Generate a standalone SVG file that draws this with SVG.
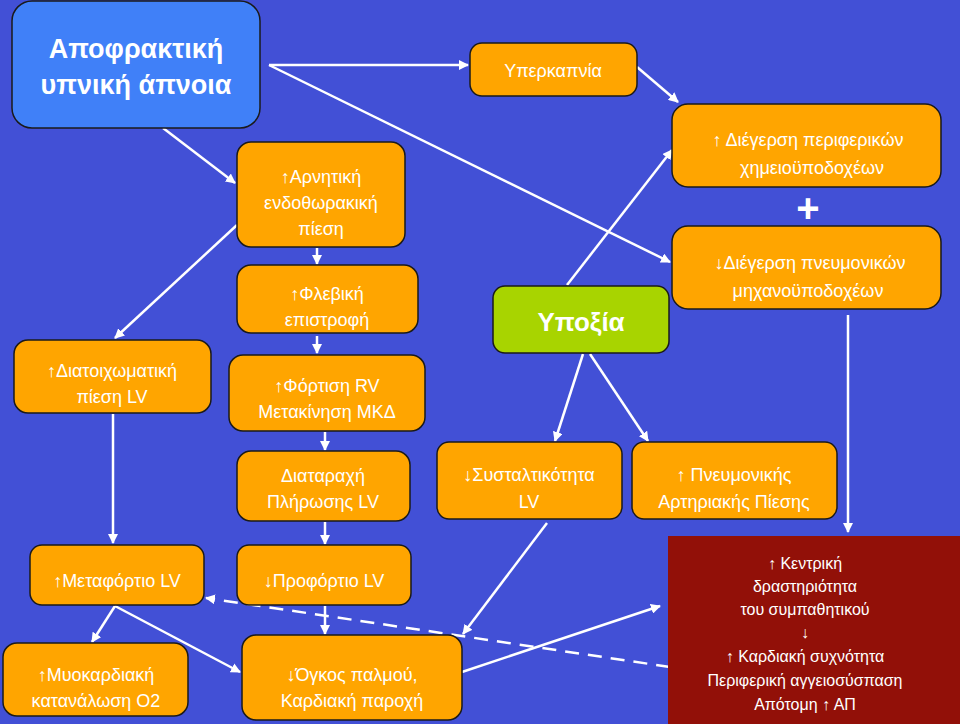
<svg xmlns="http://www.w3.org/2000/svg" width="960" height="724" viewBox="0 0 960 724">
<style>
.n{fill:#ffa500;stroke:#1a1a1a;stroke-width:1.5}
.t{fill:#fff;font-family:"Liberation Sans",Arial,sans-serif;font-size:18px;text-anchor:middle}
.c{stroke:#fff;stroke-width:2.5;fill:none;marker-end:url(#a)}
</style>
<defs><marker id="a" viewBox="0 0 10 10" refX="9" refY="5" markerWidth="4" markerHeight="4" orient="auto"><path d="M0,0L10,5L0,10z" fill="#fff"/></marker></defs>
<rect width="960" height="724" fill="#4250d6"/>
<g id="connectors">
<line class="c" x1="269" y1="65" x2="468" y2="65"/>
<line class="c" x1="269" y1="65" x2="670" y2="262"/>
<line class="c" x1="163" y1="128" x2="235" y2="183"/>
<line class="c" x1="237" y1="225" x2="115" y2="338"/>
<line class="c" x1="317" y1="248" x2="317" y2="264"/>
<line class="c" x1="317" y1="336" x2="317" y2="353"/>
<line class="c" x1="325" y1="432" x2="325" y2="450"/>
<line class="c" x1="325" y1="522" x2="325" y2="544"/>
<line class="c" x1="113" y1="414" x2="113" y2="543"/>
<line class="c" x1="325" y1="606" x2="325" y2="634"/>
<line class="c" x1="115" y1="606" x2="92" y2="642"/>
<line class="c" x1="115" y1="606" x2="240" y2="672"/>
<line class="c" x1="670" y1="667" x2="206" y2="598" stroke-dasharray="14,9"/>
<line class="c" x1="462" y1="672" x2="660" y2="606"/>
<line class="c" x1="547" y1="523" x2="463" y2="634"/>
<line class="c" x1="637" y1="67" x2="678" y2="102"/>
<line class="c" x1="567" y1="285" x2="672" y2="150"/>
<line class="c" x1="583" y1="354" x2="555" y2="441"/>
<line class="c" x1="590" y1="354" x2="648" y2="441"/>
<line class="c" x1="848" y1="315" x2="848" y2="532"/>
</g>
<g id="apo"><rect x="12" y="1" width="248" height="127" rx="20" fill="#4080f8" stroke="#1a1a1a" stroke-width="1.5"/>
<text class="t" style="font-size:27px;font-weight:bold"><tspan x="136" y="58">Αποφρακτική</tspan><tspan x="136" y="94">υπνική άπνοια</tspan></text></g>
<g id="arn"><rect class="n" x="237" y="142" width="168" height="105" rx="14"/>
<text class="t"><tspan x="321" y="183">↑Αρνητική</tspan><tspan x="321" y="209">ενδοθωρακική</tspan><tspan x="321" y="235">πίεση</tspan></text></g>
<g id="fleb"><rect class="n" x="237" y="265" width="181" height="68" rx="14"/>
<text class="t"><tspan x="327" y="300">↑Φλεβική</tspan><tspan x="327" y="326">επιστροφή</tspan></text></g>
<g id="diatoix"><rect class="n" x="14" y="340" width="197" height="73" rx="14"/>
<text class="t"><tspan x="112" y="377">↑Διατοιχωματική</tspan><tspan x="112" y="403">πίεση LV</tspan></text></g>
<g id="fort"><rect class="n" x="229" y="355" width="196" height="76" rx="14"/>
<text class="t"><tspan x="327" y="392">↑Φόρτιση RV</tspan><tspan x="327" y="418">Μετακίνηση ΜΚΔ</tspan></text></g>
<g id="diatar"><rect class="n" x="237" y="451" width="173" height="70" rx="14"/>
<text class="t"><tspan x="323" y="482">Διαταραχή</tspan><tspan x="323" y="508">Πλήρωσης LV</tspan></text></g>
<g id="yperk"><rect class="n" x="470" y="43" width="167" height="53" rx="12"/>
<text class="t" x="553" y="77">Υπερκαπνία</text></g>
<g id="dieg1"><rect class="n" x="672" y="104" width="269" height="83" rx="16"/>
<text class="t"><tspan x="808" y="146">↑ Διέγερση περιφερικών</tspan><tspan x="812" y="174">χημειοϋποδοχέων</tspan></text></g>
<text class="t" x="808" y="222" style="font-size:40px;font-weight:bold">+</text>
<g id="dieg2"><rect class="n" x="672" y="226" width="269" height="83" rx="16"/>
<text class="t"><tspan x="810" y="269">↓Διέγερση πνευμονικών</tspan><tspan x="808" y="297">μηχανοϋποδοχέων</tspan></text></g>
<g id="ypox"><rect x="493" y="286" width="176" height="67" rx="12" fill="#a8d400" stroke="#1a1a1a" stroke-width="1.5"/>
<text class="t" x="581" y="331" style="font-size:26px;font-weight:bold">Υποξία</text></g>
<g id="syst"><rect class="n" x="437" y="442" width="185" height="77" rx="12"/>
<text class="t"><tspan x="529" y="481">↓Συσταλτικότητα</tspan><tspan x="529" y="508">LV</tspan></text></g>
<g id="pneum"><rect class="n" x="632" y="442" width="205" height="77" rx="12"/>
<text class="t"><tspan x="734" y="481">↑ Πνευμονικής</tspan><tspan x="734" y="508">Αρτηριακής Πίεσης</tspan></text></g>
<g id="metaf"><rect class="n" x="30" y="545" width="174" height="60" rx="12"/>
<text class="t" x="117" y="587">↑Μεταφόρτιο LV</text></g>
<g id="profort"><rect class="n" x="237" y="545" width="174" height="60" rx="12"/>
<text class="t" x="324" y="587">↓Προφόρτιο LV</text></g>
<g id="myok"><rect class="n" x="3" y="643" width="185" height="73" rx="14"/>
<text class="t"><tspan x="96" y="681">↑Μυοκαρδιακή</tspan><tspan x="96" y="707">κατανάλωση Ο2</tspan></text></g>
<g id="ogkos"><rect class="n" x="242" y="635" width="220" height="85" rx="14"/>
<text class="t"><tspan x="352" y="681">↓Όγκος παλμού,</tspan><tspan x="352" y="707">Καρδιακή παροχή</tspan></text></g>
<g id="red"><rect x="668" y="536" width="292" height="188" fill="#921008"/>
<text class="t" style="font-size:16px"><tspan x="805" y="569">↑ Κεντρική</tspan><tspan x="805" y="592">δραστηριότητα</tspan><tspan x="805" y="615">του συμπαθητικού</tspan><tspan x="805" y="638">↓</tspan><tspan x="805" y="662">↑ Καρδιακή συχνότητα</tspan><tspan x="805" y="686">Περιφερική αγγειοσύσπαση</tspan><tspan x="805" y="710">Απότομη ↑ ΑΠ</tspan></text></g>
</svg>
